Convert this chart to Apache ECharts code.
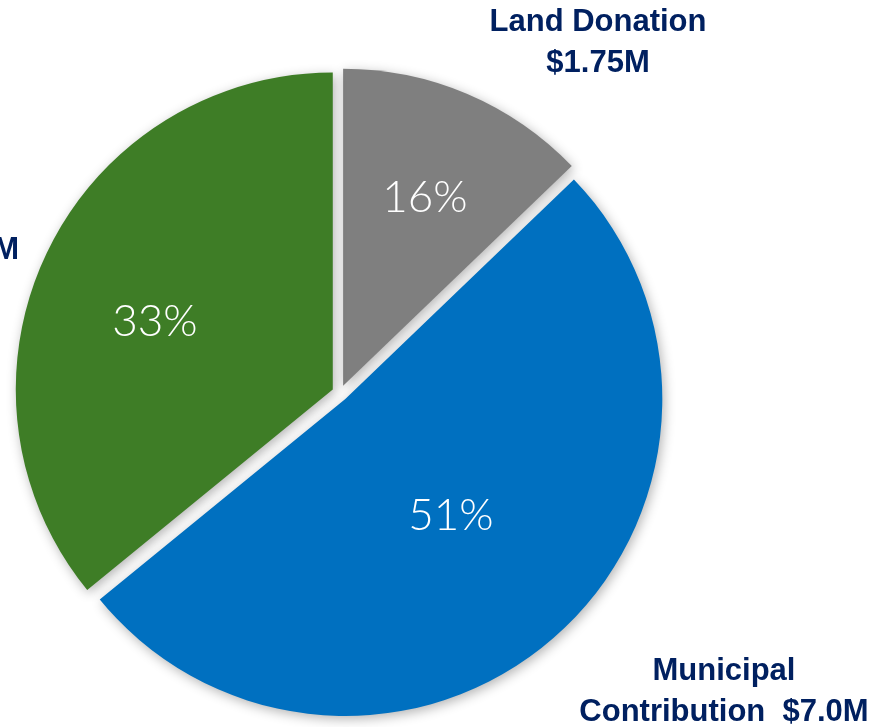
<!DOCTYPE html>
<html>
<head>
<meta charset="utf-8">
<script src="https://cdn.jsdelivr.net/npm/echarts@6/dist/echarts.min.js"></script>
<style>
  html, body { margin: 0; padding: 0; background: #fff; }
  #chart { width: 878px; height: 727px; }
</style>
</head>
<body>
<div id="chart"></div>
<script>
// slice order: clockwise from 12 o'clock
const categories = ['Land Donation', 'Municipal Contribution', 'Other Funding']
const values = [1.75, 7.0, 4.9]
const percentLabels = ['16%', '51%', '33%']
const nameLabels = ['Land Donation\n$1.75M', 'Municipal\nContribution  $7.0M', '$4.9M']
const colors = ['#7F7F7F', '#0070C0', '#3E7D26']

// label anchor points (layout)
const pctPos = [[425, 198], [451, 516], [155, 322]]
const namePos = [[598, 43], [724, 692], [19, 250]]
const nameAlign = ['center', 'center', 'right']

const chart = echarts.init(document.getElementById('chart'))

const plainData = categories.map((name, i) => ({ name, value: values[i] }))

// transparent overlay pie that only carries labels
function labelSeries(texts, pos, align, style) {
  return {
    type: 'pie',
    silent: true,
    z: 5,
    center: [340, 393],
    radius: 317,
    startAngle: 90,
    avoidLabelOverlap: false,
    itemStyle: { color: 'rgba(0,0,0,0)' },
    label: Object.assign({
      show: true,
      position: 'outside',
      formatter: (p) => texts[p.dataIndex]
    }, style),
    labelLine: { show: false },
    labelLayout: (p) => ({
      x: pos[p.dataIndex][0],
      y: pos[p.dataIndex][1],
      align: align[p.dataIndex],
      verticalAlign: 'middle'
    }),
    data: plainData
  }
}

chart.setOption({
  backgroundColor: '#fff',
  animation: false,
  series: [
    {
      type: 'pie',
      z: 1,
      center: [340, 393],
      radius: 317,
      startAngle: 90,
      clockwise: true,
      selectedMode: 'multiple',
      selectedOffset: 8,
      itemStyle: {
        shadowBlur: 12,
        shadowColor: 'rgba(0,0,0,0.3)',
        shadowOffsetX: 2,
        shadowOffsetY: 3
      },
      label: { show: false },
      labelLine: { show: false },
      data: categories.map((name, i) => ({
        name,
        value: values[i],
        selected: true,
        itemStyle: { color: colors[i] }
      }))
    },
    labelSeries(percentLabels, pctPos, ['center', 'center', 'center'], {
      color: '#fff',
      fontFamily: 'Lato, "Noto Sans", sans-serif',
      fontSize: 44,
      fontWeight: 300
    }),
    labelSeries(nameLabels, namePos, nameAlign, {
      color: '#002060',
      fontFamily: 'Liberation Sans',
      fontSize: 31,
      fontWeight: 'bold',
      lineHeight: 41,
      align: 'center'
    })
  ]
})
</script>
</body>
</html>
